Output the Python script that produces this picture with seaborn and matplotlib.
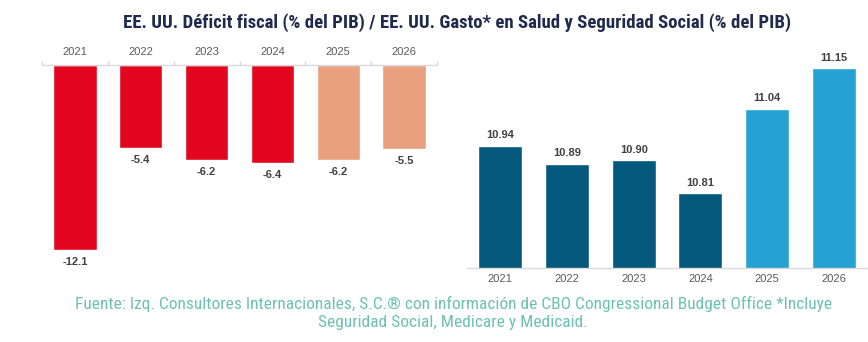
import matplotlib
matplotlib.use("Agg")
import matplotlib.pyplot as plt
import seaborn as sns
import pandas as pd

years = ["2021", "2022", "2023", "2024", "2025", "2026"]
deficit = [-12.1, -5.4, -6.2, -6.4, -6.2, -5.5]
gasto = [10.94, 10.89, 10.90, 10.81, 11.04, 11.15]

deficit_colors = ["#E2071F", "#E2071F", "#E2071F", "#E2071F", "#E8A07F", "#E8A07F"]
gasto_colors = ["#05597C", "#05597C", "#05597C", "#05597C", "#26A1D4", "#26A1D4"]

title = "EE. UU. Déficit fiscal (% del PIB) / EE. UU. Gasto* en Salud y Seguridad Social (% del PIB)"
footer = ("Fuente: Izq. Consultores Internacionales, S.C.® con información de CBO Congressional Budget Office *Incluye\n"
          "Seguridad Social, Medicare y Medicaid.")

sns.set_theme(style="white")
plt.rcParams["font.family"] = ["Liberation Sans", "DejaVu Sans"]
narrow = ["Roboto Condensed", "Archivo Narrow", "DejaVu Sans"]

df_def = pd.DataFrame({"year": years, "value": deficit})
df_gas = pd.DataFrame({"year": years, "value": gasto})

fig = plt.figure(figsize=(8.68, 3.42), dpi=100)

# Left panel: fiscal deficit, bars hanging below the zero line
ax1 = fig.add_axes([0.0484, 0.196, 0.4551, 0.614])
sns.barplot(data=df_def, x="year", y="value", hue="year", palette=deficit_colors,
            legend=False, width=0.66, saturation=1, ax=ax1)
ax1.set_ylim(-13.73, 0)
ax1.set_xlim(-0.5, 5.5)
for c in ax1.containers:
    ax1.bar_label(c, fmt="%.1f", padding=5, fontsize=8, fontweight="bold", color="#404040")
ax1.xaxis.tick_top()
ax1.tick_params(axis="x", length=0, pad=6, labelsize=8, labelcolor="#595959")
ax1.set_xticks(range(len(years)))
ax1.set_xticks([i - 0.5 for i in range(len(years) + 1)], minor=True)
ax1.tick_params(axis="x", which="minor", top=True, bottom=False, length=3, color="#D9D9D9", direction="out")
ax1.set_yticks([])
ax1.set_xlabel("")
ax1.set_ylabel("")
for s in ["left", "right", "bottom"]:
    ax1.spines[s].set_visible(False)
ax1.spines["top"].set_color("#D9D9D9")
ax1.spines["top"].set_linewidth(1.0)

# Right panel: health and social security spending
ax2 = fig.add_axes([0.538, 0.2164, 0.461, 0.6666])
sns.barplot(data=df_gas, x="year", y="value", hue="year", palette=gasto_colors,
            legend=False, width=0.66, saturation=1, ax=ax2)
ax2.set_ylim(10.607, 11.227)
ax2.set_xlim(-0.5, 5.5)
for c in ax2.containers:
    ax2.bar_label(c, fmt="%.2f", padding=4, fontsize=8, fontweight="bold", color="#404040")
ax2.tick_params(axis="x", length=0, pad=4, labelsize=8, labelcolor="#595959")
ax2.set_yticks([])
ax2.set_xlabel("")
ax2.set_ylabel("")
for s in ["left", "right", "top"]:
    ax2.spines[s].set_visible(False)
ax2.spines["bottom"].set_color("#D9D9D9")
ax2.spines["bottom"].set_linewidth(1.0)

fig.text(0.526, 0.935, title, ha="center", va="center", fontsize=13.5,
         fontweight="bold", color="#1F2B4D", family=narrow)
fig.text(0.522, 0.086, footer, ha="center", va="center", fontsize=12.5,
         color="#6CC1B2", linespacing=1.25, family=narrow)

fig.savefig("out.png", dpi=100)
